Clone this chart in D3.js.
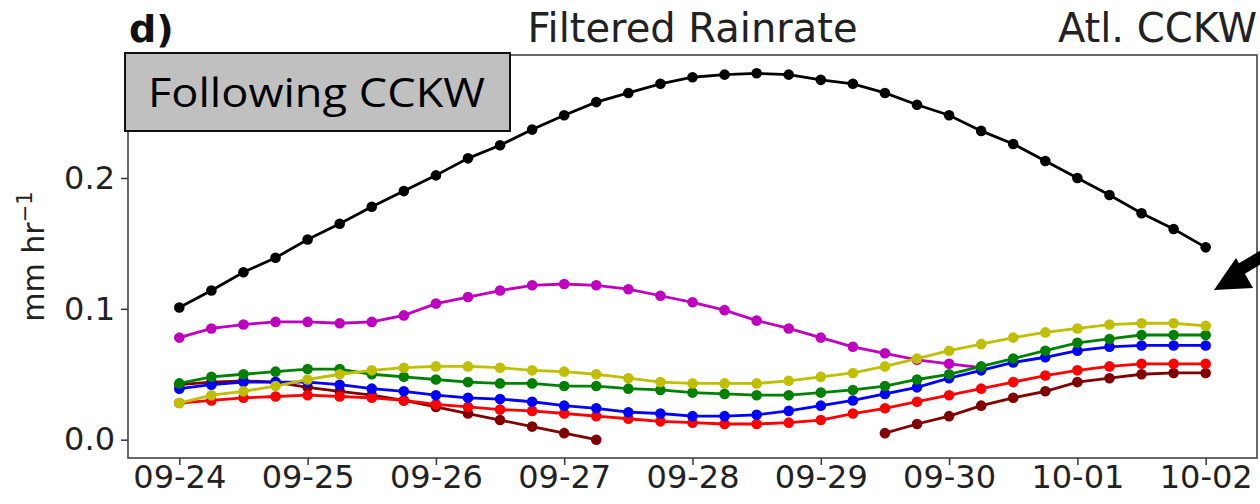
<!DOCTYPE html>
<html>
<head>
<meta charset="utf-8">
<script src="https://cdn.jsdelivr.net/npm/d3@7"></script>
<style>
  body { margin: 0; background: #fff; }
  svg { display: block; font-family: "DejaVu Sans", sans-serif; }
</style>
</head>
<body>
<div id="chart"></div>
<script>
// 6-hourly values, 09-24 00Z .. 10-02 00Z (33 steps)
var startDate = "2023-09-24", endDate = "2023-10-02";
var tickLabels = ["09-24", "09-25", "09-26", "09-27", "09-28", "09-29", "09-30", "10-01", "10-02"];
var yTicks = [0.0, 0.1, 0.2];

var blackVals = [0.101, 0.114, 0.128, 0.139, 0.153, 0.165, 0.178, 0.190, 0.202, 0.215, 0.225, 0.237,
  0.248, 0.258, 0.265, 0.272, 0.277, 0.279, 0.280, 0.279, 0.275, 0.272, 0.265, 0.256, 0.248, 0.236,
  0.226, 0.213, 0.200, 0.187, 0.173, 0.161, 0.147];
var magentaVals = [0.078, 0.085, 0.088, 0.090, 0.090, 0.089, 0.090, 0.095, 0.104, 0.109, 0.114, 0.118,
  0.119, 0.118, 0.115, 0.110, 0.105, 0.099, 0.091, 0.085, 0.078, 0.071, 0.066, 0.061, 0.058, 0.055];
var darkredVals = [0.042, 0.044, 0.045, 0.044, 0.040, 0.037, 0.034, 0.030, 0.025, 0.020, 0.015, 0.010,
  0.005, 0.000, null, null, null, null, null, null, null, null, 0.005, 0.012, 0.018, 0.026,
  0.032, 0.037, 0.044, 0.047, 0.050, 0.051, 0.051];
var redVals = [0.028, 0.030, 0.032, 0.033, 0.034, 0.033, 0.032, 0.030, 0.027, 0.025, 0.023, 0.022,
  0.020, 0.018, 0.016, 0.014, 0.013, 0.012, 0.012, 0.013, 0.015, 0.020, 0.024, 0.029, 0.034, 0.039,
  0.044, 0.049, 0.053, 0.056, 0.058, 0.058, 0.058];
var blueVals = [0.039, 0.042, 0.044, 0.044, 0.044, 0.042, 0.039, 0.037, 0.034, 0.032, 0.031, 0.029,
  0.026, 0.024, 0.021, 0.020, 0.018, 0.018, 0.019, 0.022, 0.026, 0.030, 0.035, 0.040, 0.047, 0.053,
  0.059, 0.063, 0.068, 0.071, 0.072, 0.072, 0.072];
var greenVals = [0.043, 0.048, 0.050, 0.052, 0.054, 0.054, 0.050, 0.048, 0.046, 0.044, 0.043, 0.043,
  0.041, 0.041, 0.039, 0.038, 0.036, 0.035, 0.034, 0.034, 0.036, 0.038, 0.041, 0.046, 0.050, 0.056,
  0.062, 0.068, 0.074, 0.077, 0.080, 0.080, 0.080];
var yellowVals = [0.028, 0.034, 0.037, 0.041, 0.046, 0.050, 0.053, 0.055, 0.056, 0.056, 0.055, 0.053,
  0.052, 0.050, 0.047, 0.044, 0.043, 0.043, 0.043, 0.045, 0.048, 0.051, 0.056, 0.062, 0.068, 0.073,
  0.078, 0.082, 0.085, 0.088, 0.089, 0.089, 0.087];

var series = [
  {name: "black", color: "#000000", values: blackVals},
  {name: "magenta", color: "#bf00bf", values: magentaVals},
  {name: "darkred", color: "#800000", values: darkredVals},
  {name: "red", color: "#ff0000", values: redVals},
  {name: "blue", color: "#0000ff", values: blueVals},
  {name: "green", color: "#008000", values: greenVals},
  {name: "yellow", color: "#bfbf00", values: yellowVals}
];

var W = 1260, H = 504;
var margin = {top: 55, right: 3, bottom: 46, left: 128};
var width = W - margin.left - margin.right,
    height = H - margin.top - margin.bottom;

var t0 = new Date(startDate + "T00:00:00Z"), t1 = new Date(endDate + "T00:00:00Z");
var times = d3.utcHour.every(6).range(t0, new Date(+t1 + 1));
var pad = (t1 - t0) * 0.05;

var x = d3.scaleUtc()
    .domain([new Date(+t0 - pad), new Date(+t1 + pad)])
    .range([0, width]);
var y = d3.scaleLinear()
    .domain([-0.014, 0.294])
    .range([height, 0]);

var svg = d3.select("#chart").append("svg")
    .attr("width", W)
    .attr("height", H);

var g = svg.append("g")
    .attr("transform", "translate(" + margin.left + "," + margin.top + ")");

// lines + markers
var line = d3.line()
    .defined(function(d) { return d.v != null; })
    .x(function(d) { return x(d.t); })
    .y(function(d) { return y(d.v); });

series.forEach(function(s) {
  var pts = s.values.map(function(v, i) { return {t: times[i], v: v}; });
  g.append("path")
      .datum(pts)
      .attr("fill", "none")
      .attr("stroke", s.color)
      .attr("stroke-width", 2.8)
      .attr("d", line);
  g.selectAll(".dot-" + s.name)
      .data(pts.filter(function(d) { return d.v != null; }))
      .enter().append("circle")
      .attr("class", "dot-" + s.name)
      .attr("cx", function(d) { return x(d.t); })
      .attr("cy", function(d) { return y(d.v); })
      .attr("r", 5.3)
      .attr("fill", s.color);
});

// axes
var xAxis = d3.axisBottom(x)
    .tickValues(tickLabels.map(function(d, i) { return d3.utcDay.offset(t0, i); }))
    .tickFormat(function(d, i) { return tickLabels[i]; })
    .tickSizeOuter(0)
    .tickSize(7)
    .tickPadding(0);
var yAxis = d3.axisLeft(y)
    .tickValues(yTicks)
    .tickFormat(d3.format(".1f"))
    .tickSizeOuter(0)
    .tickSize(7)
    .tickPadding(6);

var gx = g.append("g")
    .attr("transform", "translate(0," + height + ")")
    .call(xAxis);
var gy = g.append("g").call(yAxis);
[gx, gy].forEach(function(a) {
  a.select(".domain").remove();
  a.selectAll("line").attr("stroke", "#333").attr("stroke-width", 1.5);
  a.selectAll("text")
      .attr("fill", "#222")
      .style("font-family", "DejaVu Sans, sans-serif")
      .style("font-size", "32px");
});

// frame
g.append("rect")
    .attr("width", width)
    .attr("height", height)
    .attr("fill", "none")
    .attr("stroke", "#444")
    .attr("stroke-width", 1.6);

// y label
svg.append("text")
    .attr("transform", "translate(44," + (margin.top + height / 2) + ") rotate(-90)")
    .attr("text-anchor", "middle")
    .attr("fill", "#222")
    .style("font-size", "30px")
    .html('mm hr<tspan dy="-12" font-size="21px">\u22121</tspan>');

// titles
svg.append("text")
    .attr("x", margin.left + width / 2).attr("y", 42)
    .attr("text-anchor", "middle")
    .attr("fill", "#222")
    .style("font-size", "40px")
    .text("Filtered Rainrate");
svg.append("text")
    .attr("x", 129).attr("y", 42)
    .attr("fill", "#111")
    .style("font-size", "38px")
    .style("font-weight", "bold")
    .text("d)");
svg.append("text")
    .attr("x", W - 3).attr("y", 42)
    .attr("text-anchor", "end")
    .attr("fill", "#222")
    .style("font-size", "40px")
    .text("Atl. CCKW");

// label box
svg.append("rect")
    .attr("x", 125).attr("y", 53)
    .attr("width", 385).attr("height", 78)
    .attr("fill", "#c0c0c0")
    .attr("stroke", "#111")
    .attr("stroke-width", 2);
svg.append("text")
    .attr("x", 148).attr("y", 107)
    .attr("fill", "#000")
    .style("font-family", "Open Sans, sans-serif")
    .style("font-size", "41px")
    .attr("textLength", 337)
    .attr("lengthAdjust", "spacingAndGlyphs")
    .text("Following CCKW");

// arrow annotation
svg.append("line")
    .attr("x1", 1263).attr("y1", 256)
    .attr("x2", 1236).attr("y2", 272)
    .attr("stroke", "#000")
    .attr("stroke-width", 12);
svg.append("path")
    .attr("d", "M1214,290 L1236,258 L1253,288 Z")
    .attr("fill", "#000");
</script>
</body>
</html>
